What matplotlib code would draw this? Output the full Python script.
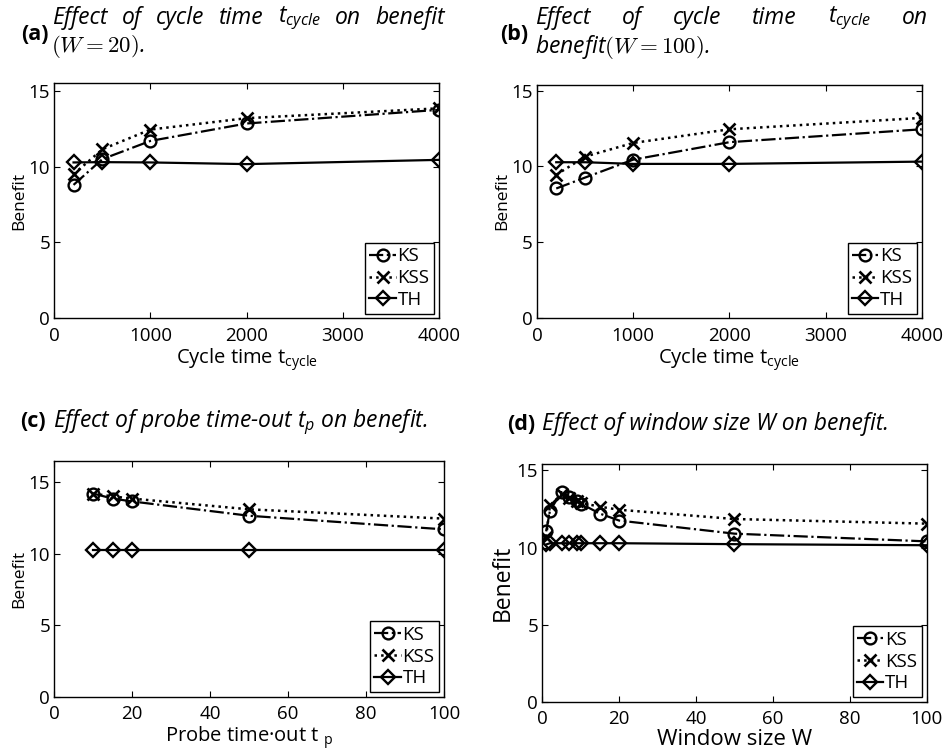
import numpy as np
import matplotlib
matplotlib.use('Agg')
import matplotlib.pyplot as plt

plt.rcParams['font.family'] = ['Open Sans', 'DejaVu Sans']
plt.rcParams['mathtext.fontset'] = 'custom'
plt.rcParams['mathtext.rm'] = 'Open Sans'
plt.rcParams['mathtext.it'] = 'Open Sans:italic'

# (a) cycle time, W = 20
cycle_a = [200, 500, 1000, 2000, 4000]
ks_a = [8.8, 10.5, 11.7, 12.85, 13.75]
kss_a = [9.5, 11.15, 12.45, 13.2, 13.85]
th_a = [10.28, 10.3, 10.28, 10.17, 10.45]

# (b) cycle time, W = 100
cycle_b = [200, 500, 1000, 2000, 4000]
ks_b = [8.55, 9.27, 10.45, 11.6, 12.45]
kss_b = [9.45, 10.65, 11.55, 12.45, 13.2]
th_b = [10.28, 10.28, 10.17, 10.17, 10.32]

# (c) probe time-out
probe_c = [10, 15, 20, 50, 100]
ks_c = [14.2, 13.85, 13.65, 12.65, 11.7]
kss_c = [14.2, 14.0, 13.85, 13.1, 12.45]
th_c = [10.27, 10.27, 10.27, 10.27, 10.27]

# (d) window size
win_d = [1, 2, 5, 7, 9, 10, 15, 20, 50, 100]
ks_d = [11.05, 12.4, 13.6, 13.3, 13.0, 12.85, 12.2, 11.75, 10.9, 10.4]
kss_d = [10.7, 12.75, 13.45, 13.2, 13.0, 12.9, 12.65, 12.45, 11.85, 11.55]
th_d = [10.2, 10.28, 10.28, 10.28, 10.28, 10.28, 10.28, 10.28, 10.22, 10.15]

labels = ['KS', 'KSS', 'TH']

W, H = 953, 751
fig = plt.figure(figsize=(W / 100, H / 100), dpi=100)


def px_axes(left, top, right, bottom):
    return fig.add_axes([left / W, 1 - bottom / H, (right - left) / W, (bottom - top) / H])


def draw_panel(ax, x, ks, kss, th, xlim, ylim, xticks):
    ax.plot(x, ks, '-.', color='black', lw=1.6, marker='o', ms=8.5, mfc='none', mew=1.7, label=labels[0])
    ax.plot(x, kss, ':', color='black', lw=1.8, marker='x', ms=8, mew=1.9, label=labels[1])
    ax.plot(x, th, '-', color='black', lw=1.6, marker='D', ms=7.5, mfc='none', mew=1.7, label=labels[2])
    ax.set_xlim(xlim)
    ax.set_ylim(ylim)
    ax.set_xticks(xticks)
    ax.set_yticks([0, 5, 10, 15])
    ax.tick_params(direction='in', top=True, right=True, labelsize=13.5, length=4)
    ax.tick_params(axis='x', pad=6)
    ax.tick_params(axis='y', pad=3)
    for s in ax.spines.values():
        s.set_linewidth(1.0)
    leg = ax.legend(loc='lower right', fontsize=13.5, handlelength=1.4, handletextpad=0.1,
                    borderaxespad=0.25, borderpad=0.25, labelspacing=0.2, fancybox=False,
                    edgecolor='black', framealpha=1)
    leg.get_frame().set_linewidth(1.0)


ax_a = px_axes(54.3, 83.3, 439, 318.3)
draw_panel(ax_a, cycle_a, ks_a, kss_a, th_a, (0, 4000), (0, 15.5), [0, 1000, 2000, 3000, 4000])
ax_a.set_xlabel('Cycle time t$_{\\rm cycle}$', fontsize=14.5, labelpad=1)
ax_a.set_ylabel('Benefit', fontsize=12.5, labelpad=1)

ax_b = px_axes(537, 84.5, 921.7, 318.3)
draw_panel(ax_b, cycle_b, ks_b, kss_b, th_b, (0, 4000), (0, 15.4), [0, 1000, 2000, 3000, 4000])
ax_b.set_xlabel('Cycle time t$_{\\rm cycle}$', fontsize=14.5, labelpad=1)
ax_b.set_ylabel('Benefit', fontsize=12.5, labelpad=1)

ax_c = px_axes(54.3, 460.7, 444, 696.7)
draw_panel(ax_c, probe_c, ks_c, kss_c, th_c, (0, 100), (0, 16.5), [0, 20, 40, 60, 80, 100])
ax_c.set_xlabel('Probe time\u00b7out t $_{\\rm p}$', fontsize=14.5, labelpad=1)
ax_c.set_ylabel('Benefit', fontsize=12.5, labelpad=1)

ax_d = px_axes(542.3, 464.3, 926.7, 701.7)
draw_panel(ax_d, win_d, ks_d, kss_d, th_d, (0, 100), (0, 15.4), [0, 20, 40, 60, 80, 100])
ax_d.set_xlabel('Window size W', fontsize=16, labelpad=0.5)
ax_d.set_ylabel('Benefit', fontsize=16.5, labelpad=1)


# titles, pixel positions from the top-left corner
def ftext(x, y, s, **kw):
    return fig.text(x / W, 1 - y / H, s, **kw)


def justify(words, x0, x1, y, **kw):
    texts = [ftext(x0, y, w, va='center', ha='left', **kw) for w in words]
    fig.canvas.draw()
    r = fig.canvas.get_renderer()
    widths = [t.get_window_extent(r).width for t in texts]
    gap = (x1 - x0 - sum(widths)) / (len(words) - 1)
    x = x0
    for t, w in zip(texts, widths):
        t.set_position((x / W, 1 - y / H))
        x += w + gap


tfs = 16.5
ftext(21, 34, '(a)', fontsize=tfs - 1, fontweight='bold', va='center')
justify(['Effect', 'of', 'cycle', 'time', '$t_{cycle}$', 'on', 'benefit'], 52, 445, 18,
        fontsize=tfs, style='italic')
ftext(51, 47, '$(W = 20)$.', fontsize=tfs, style='italic', va='center', math_fontfamily='cm')

ftext(500, 34, '(b)', fontsize=tfs - 1, fontweight='bold', va='center')
justify(['Effect', 'of', 'cycle', 'time', '$t_{cycle}$', 'on'], 535, 928, 18,
        fontsize=tfs, style='italic')
ftext(535, 47, 'benefit$(W = 100)$.', fontsize=tfs, style='italic', va='center', math_fontfamily='cm')

ftext(20, 422, '(c)', fontsize=tfs - 1, fontweight='bold', va='center')
ftext(53, 422, 'Effect of probe time-out $t_p$ on benefit.', fontsize=tfs, style='italic', va='center')

ftext(507, 424, '(d)', fontsize=tfs - 1, fontweight='bold', va='center')
ftext(542, 424, 'Effect of window size W on benefit.', fontsize=tfs, style='italic', va='center')

fig.savefig('out.png', dpi=100)
